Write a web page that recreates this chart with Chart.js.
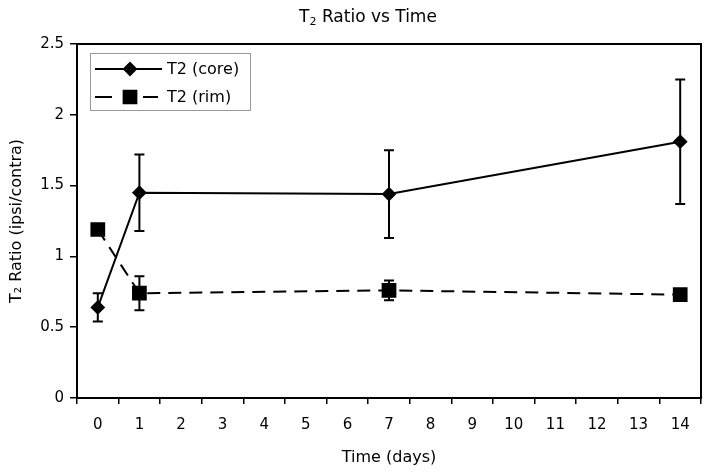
<!DOCTYPE html>
<html>
<head>
<meta charset="utf-8">
<script src="https://cdn.jsdelivr.net/npm/chart.js@4"></script>
<style>
  html, body { margin: 0; padding: 0; background: #fff; }
  #wrap { width: 714px; height: 476px; }
</style>
</head>
<body>
<div id="wrap"><canvas id="t2Chart"></canvas></div>
<script>
// Time axis categories (days)
const days = ['0', '1', '2', '3', '4', '5', '6', '7', '8', '9', '10', '11', '12', '13', '14'];

// Measured days and values
const sampleDays = [0, 1, 7, 14];
const coreValues = [0.64, 1.45, 1.44, 1.81];
const coreErrors = [0.10, 0.27, 0.31, 0.44];
const rimValues = [1.19, 0.74, 0.76, 0.73];
const rimErrors = [0.02, 0.12, 0.07, 0.02];

const yTicks = [0, 0.5, 1, 1.5, 2, 2.5];

const FONT = '"DejaVu Sans", sans-serif';

// spread the sparse values over all day categories
function toSeries(values) {
    const out = days.map(() => null);
    sampleDays.forEach((d, i) => { out[d] = values[i]; });
    return out;
}

// Error bars drawn through the chart's scales
const errorBars = {
    id: 'errorBars',
    afterDatasetsDraw(chart) {
        const ctx = chart.ctx;
        const yScale = chart.scales.y;
        chart.data.datasets.forEach((ds, i) => {
            const meta = chart.getDatasetMeta(i);
            ctx.save();
            ctx.strokeStyle = '#000';
            ctx.lineWidth = 2;
            ctx.setLineDash([]);
            meta.data.forEach((pt, j) => {
                const v = ds.data[j];
                const e = ds.errors[j];
                if (v == null || e == null) return;
                const yTop = yScale.getPixelForValue(v + e);
                const yBot = yScale.getPixelForValue(v - e);
                ctx.beginPath();
                ctx.moveTo(pt.x, yTop);
                ctx.lineTo(pt.x, yBot);
                ctx.moveTo(pt.x - 5, yTop);
                ctx.lineTo(pt.x + 5, yTop);
                ctx.moveTo(pt.x - 5, yBot);
                ctx.lineTo(pt.x + 5, yBot);
                ctx.stroke();
            });
            ctx.restore();
        });
    }
};

// Box round the plot area
const frame = {
    id: 'frame',
    afterDraw(chart) {
        const a = chart.chartArea;
        const ctx = chart.ctx;
        ctx.save();
        ctx.strokeStyle = '#000';
        ctx.lineWidth = 2;
        ctx.strokeRect(a.left, a.top, a.right - a.left, a.bottom - a.top);
        ctx.restore();
    }
};

// Title with a real subscript 2
const titleText = {
    id: 'titleText',
    afterDraw(chart) {
        const ctx = chart.ctx;
        ctx.save();
        ctx.fillStyle = '#000';
        ctx.textBaseline = 'alphabetic';
        const big = '17px ' + FONT, small = '11px ' + FONT;
        ctx.font = big;
        const wT = ctx.measureText('T').width;
        const wRest = ctx.measureText(' Ratio vs Time').width;
        ctx.font = small;
        const w2 = ctx.measureText('2').width;
        let x = 368 - (wT + w2 + wRest) / 2;
        const y = 22;
        ctx.font = big;
        ctx.fillText('T', x, y);
        x += wT;
        ctx.font = small;
        ctx.fillText('2', x, y + 3);
        x += w2;
        ctx.font = big;
        ctx.fillText(' Ratio vs Time', x, y);
        ctx.restore();
    }
};

// Legend box inside the plot, top left
const insideLegend = {
    id: 'insideLegend',
    afterDraw(chart) {
        const ctx = chart.ctx;
        const x0 = 90, y0 = 53, w = 160, h = 57;
        ctx.save();
        ctx.fillStyle = '#fff';
        ctx.fillRect(x0, y0, w, h);
        ctx.strokeStyle = '#999';
        ctx.lineWidth = 1;
        ctx.strokeRect(x0 + 0.5, y0 + 0.5, w, h);
        chart.data.datasets.forEach((ds, i) => {
            const cy = y0 + 16 + i * 28;
            ctx.strokeStyle = '#000';
            ctx.lineWidth = 2;
            ctx.beginPath();
            if (ds.borderDash) {
                ctx.moveTo(x0 + 5, cy); ctx.lineTo(x0 + 22, cy);
                ctx.moveTo(x0 + 53, cy); ctx.lineTo(x0 + 68, cy);
            } else {
                ctx.moveTo(x0 + 5, cy); ctx.lineTo(x0 + 72, cy);
            }
            ctx.stroke();
            ctx.fillStyle = '#000';
            Chart.helpers.drawPoint(ctx, {
                pointStyle: ds.pointStyle,
                radius: ds.pointRadius,
                borderWidth: 1,
                rotation: 0
            }, x0 + 40, cy);
            ctx.fill();
            ctx.font = '16px ' + FONT;
            ctx.textBaseline = 'middle';
            ctx.fillText(ds.label, x0 + 77, cy + 1);
        });
        ctx.restore();
    }
};

new Chart(document.getElementById('t2Chart'), {
    type: 'line',
    data: {
        labels: days,
        datasets: [{
            label: 'T2 (core)',
            data: toSeries(coreValues),
            errors: toSeries(coreErrors),
            borderColor: '#000',
            backgroundColor: '#000',
            borderWidth: 2,
            pointStyle: 'rectRot',
            pointRadius: 6,
            pointHoverRadius: 6,
            spanGaps: true,
            tension: 0
        }, {
            label: 'T2 (rim)',
            data: toSeries(rimValues),
            errors: toSeries(rimErrors),
            borderColor: '#000',
            backgroundColor: '#000',
            borderWidth: 2,
            borderDash: [13, 8],
            pointStyle: 'rect',
            pointRadius: 9,
            pointHoverRadius: 9,
            spanGaps: true,
            tension: 0
        }]
    },
    options: {
        responsive: true,
        maintainAspectRatio: false,
        animation: false,
        layout: { padding: { left: 0, right: 13, top: 44, bottom: 0 } },
        plugins: {
            legend: { display: false },
            tooltip: { enabled: false },
            title: { display: false }
        },
        scales: {
            x: {
                type: 'category',
                offset: true,
                afterFit(scale) { scale.height = 78; },
                grid: { offset: true, drawOnChartArea: false, drawTicks: true, tickLength: 6, color: '#000', lineWidth: 1.5 },
                border: { color: '#000', width: 2 },
                ticks: { color: '#000', font: { family: FONT, size: 15 }, padding: 12, maxRotation: 0, autoSkip: false },
                title: { display: true, text: 'Time (days)', color: '#000', font: { family: FONT, size: 16 }, padding: { top: 0, bottom: 9 } }
            },
            y: {
                min: 0,
                max: 2.5,
                afterBuildTicks(scale) { scale.ticks = yTicks.map(v => ({ value: v })); },
                afterFit(scale) { scale.width = 77; },
                grid: { drawOnChartArea: false, drawTicks: true, tickLength: 7, color: '#000', lineWidth: 1.5 },
                border: { color: '#000', width: 2 },
                ticks: { color: '#000', font: { family: FONT, size: 15 }, padding: 6, callback: v => String(v) },
                title: { display: true, text: 'T\u2082 Ratio (ipsi/contra)', color: '#000', font: { family: FONT, size: 16 }, padding: { top: 7, bottom: 0 } }
            }
        }
    },
    plugins: [errorBars, frame, titleText, insideLegend]
});
</script>
</body>
</html>
